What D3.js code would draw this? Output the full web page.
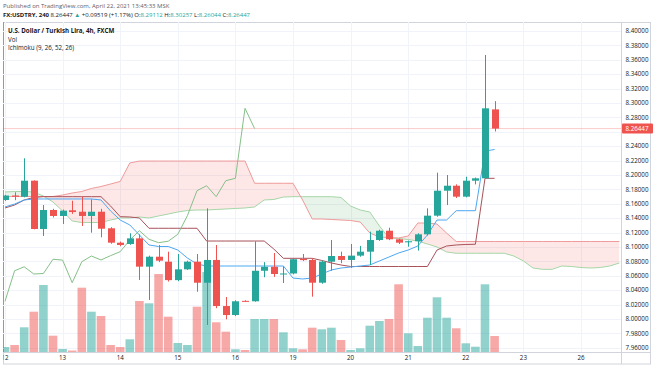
<!DOCTYPE html>
<html><head><meta charset="utf-8">
<script src="https://cdn.jsdelivr.net/npm/d3@7"></script>
<style>
body{margin:0;background:#fff;}
svg{display:block;font-family:"Open Sans",Roboto,sans-serif;}
</style></head><body>
<svg id="c" width="654" height="366"></svg>
<script>
// ---- data ----
const opens  = [8.1653,8.1715,8.1698,8.1921,8.1250,8.1514,8.1431,8.1510,8.1490,8.1431,8.1490,8.1260,8.1060,8.1042,8.1120,8.0727,8.0865,8.0796,8.0540,8.0690,8.0796,8.0504,8.0820,8.0180,8.0055,8.0252,8.0246,8.0670,8.0725,8.0625,8.0632,8.0835,8.0820,8.0504,8.0796,8.0875,8.0820,8.0880,8.0935,8.1097,8.1226,8.1107,8.1065,8.1080,8.1176,8.1435,8.1782,8.1851,8.1699,8.1921,8.1954,8.29112];
const highs  = [8.1725,8.1760,8.2232,8.1925,8.1583,8.1530,8.1520,8.1643,8.1699,8.1662,8.1530,8.1275,8.1075,8.1190,8.1176,8.0880,8.1028,8.0935,8.0903,8.0810,8.0903,8.1537,8.1028,8.0305,8.0260,8.0260,8.1080,8.0790,8.0917,8.0730,8.0840,8.0903,8.0840,8.0810,8.1097,8.0935,8.1042,8.1015,8.1213,8.1240,8.1268,8.1115,8.1090,8.1190,8.1537,8.2032,8.2000,8.1870,8.1976,8.1965,8.3667,8.30257];
const lows   = [8.1640,8.1650,8.1690,8.1245,8.1153,8.1410,8.1320,8.1460,8.1292,8.1199,8.1134,8.1045,8.1010,8.1030,8.0542,8.0264,8.0790,8.0520,8.0525,8.0680,8.0379,7.9917,8.0150,7.9996,8.0040,8.0240,8.0240,8.0580,8.0585,8.0500,8.0620,8.0805,8.0310,8.0490,8.0670,8.0775,8.0710,8.0865,8.0750,8.1085,8.1095,8.1042,8.1004,8.0950,8.1160,8.1420,8.1583,8.1680,8.1690,8.1870,8.1950,8.26044];
const closes = [8.1715,8.1698,8.1921,8.1250,8.1514,8.1431,8.1505,8.1486,8.1431,8.1490,8.1254,8.1060,8.1028,8.1120,8.0727,8.0865,8.0810,8.0540,8.0690,8.0796,8.0504,8.0820,8.0180,8.0055,8.0246,8.0246,8.0670,8.0725,8.0625,8.0632,8.0830,8.0818,8.0504,8.0796,8.0875,8.0820,8.0880,8.0935,8.1097,8.1226,8.1107,8.1060,8.1080,8.1176,8.1435,8.1782,8.1851,8.1699,8.1921,8.1954,8.2926,8.26447];
const volumes = [500,700,2470,4030,6700,1630,300,150,6430,4030,3600,700,500,1270,5100,4870,7800,3530,900,700,4530,8000,2970,2030,270,200,3300,3300,3300,1970,370,270,2430,2270,2430,1200,200,370,2630,3100,3300,6770,1870,600,3430,5470,3430,2370,870,530,6770,1600];
const conversionLine = [8.1556,8.1597,8.1653,8.1667,8.1667,8.1667,8.1667,8.1667,8.1667,8.1667,8.1653,8.1500,8.1375,8.1306,8.1167,8.1028,8.1007,8.1007,8.0958,8.0847,8.0764,8.0736,8.0736,8.0736,8.0736,8.0736,8.0736,8.0736,8.0736,8.0736,8.0569,8.0556,8.0569,8.0625,8.0681,8.0708,8.0722,8.0736,8.0750,8.0806,8.0861,8.0917,8.0958,8.1014,8.1167,8.1375,8.1375,8.1504,8.1504,8.1504,8.2333,8.2354];
const baseLine = [8.1542,8.1583,8.1653,8.1688,8.1699,8.1699,8.1699,8.1699,8.1699,8.1699,8.1699,8.1569,8.1421,8.1417,8.1403,8.1260,8.1260,8.1260,8.1260,8.1260,8.1260,8.1083,8.1083,8.1083,8.1083,8.1083,8.1083,8.1083,8.0972,8.0843,8.0843,8.0843,8.0843,8.0813,8.0778,8.0750,8.0729,8.0729,8.0729,8.0729,8.0729,8.0729,8.0729,8.0729,8.0729,8.0958,8.1014,8.1028,8.1035,8.1038,8.1954,8.1954];
const leadingSpanA = [8.1764,8.1771,8.1771,8.1764,8.1708,8.1625,8.1500,8.1361,8.1340,8.1340,8.1340,8.1375,8.1403,8.1403,8.1417,8.1403,8.1431,8.1458,8.1486,8.1507,8.1514,8.1514,8.1521,8.1528,8.1535,8.1542,8.1556,8.1653,8.1660,8.1694,8.1699,8.1699,8.1699,8.1699,8.1699,8.1688,8.1569,8.1514,8.1486,8.1292,8.1125,8.1118,8.1104,8.1083,8.1042,8.1000,8.0931,8.0913,8.0913,8.0913,8.0913,8.0913,8.0913,8.0875,8.0806,8.0708,8.0690,8.0690,8.0736,8.0729,8.0715,8.0708,8.0715,8.0736,8.0778];
const leadingSpanB = [8.1701,8.1701,8.1701,8.1701,8.1701,8.1701,8.1722,8.1750,8.1771,8.1813,8.1840,8.1875,8.1910,8.2167,8.2194,8.2194,8.2194,8.2194,8.2194,8.2194,8.2194,8.2194,8.2194,8.2194,8.2194,8.2194,8.1885,8.1885,8.1885,8.1885,8.1885,8.1653,8.1389,8.1389,8.1382,8.1375,8.1368,8.1347,8.1194,8.1139,8.1132,8.1125,8.1153,8.1333,8.1333,8.1319,8.1194,8.1076,8.1076,8.1076,8.1076,8.1076,8.1076,8.1076,8.1076,8.1076,8.1076,8.1076,8.1076,8.1076,8.1076,8.1076,8.1076,8.1076,8.1076];
const laggingShift = 25;
const dayLabels = ["12","13","14","15","16","19","20","21","22","23","26"];
const dayStartBars = [0,6,12,18,24,30,36,42,48,54,60];
const priceTicks = [7.96,7.98,8.00,8.02,8.04,8.06,8.08,8.10,8.12,8.14,8.16,8.18,8.20,8.22,8.24,8.26,8.28,8.30,8.32,8.34,8.36,8.38,8.40];
const lastPrice = 8.26447;

// ---- layout ----
const svg = d3.select("#c");
const P = {l:3, r:621, t:22, b:352};
const UP = "#26a69a", DN = "#ef5350";
const x = d3.scaleLinear().domain([0,64]).range([5, 5+9.6*64]);
const y = d3.scaleLinear().domain([7.96, 8.40]).range([347.8, 31]);
const vy = d3.scaleLinear().domain([0,10000]).range([P.b, P.b-100]);

const defs = svg.append("defs");
defs.append("clipPath").attr("id","plot").append("rect")
  .attr("x",P.l).attr("y",P.t).attr("width",P.r-P.l).attr("height",P.b-P.t);
defs.append("clipPath").attr("id","xax").append("rect")
  .attr("x",P.l+0.5).attr("y",P.b).attr("width",P.r-P.l).attr("height",14);

// header
svg.append("text").attr("x",3).attr("y",7.5).attr("font-size",6).attr("fill","#5d606b")
  .text("Published on TradingView.com, April 22, 2021 13:45:33 MSK");
const h2 = svg.append("text").attr("x",3).attr("y",17).attr("font-size",6).attr("fill","#131722");
h2.append("tspan").attr("font-weight","bold").text("FX:USDTRY, 240");
h2.append("tspan").text(" 8.26447 ");
h2.append("tspan").attr("fill",UP).text("▲");
h2.append("tspan").text(" +0.09519 (+1.17%) ");
[["O:","8.29112"],["H:","8.30257"],["L:","8.26044"],["C:","8.26447"]].forEach((p,k)=>{
  h2.append("tspan").text((k?" ":"")+p[0]);
  h2.append("tspan").attr("fill",UP).text(p[1]);
});

// frame
svg.append("rect").attr("x",P.l+0.5).attr("y",P.t+0.5).attr("width",650-P.l).attr("height",364-P.t-0.5)
  .attr("fill","none").attr("stroke","#d1d4dc");
svg.append("line").attr("x1",P.l+0.5).attr("x2",P.l+0.5).attr("y1",P.t).attr("y2",P.b)
  .attr("stroke","#9598a1");

const g = svg.append("g").attr("clip-path","url(#plot)");

// grid
g.selectAll("line.hg").data(priceTicks).join("line")
  .attr("x1",P.l).attr("x2",P.r).attr("y1",d=>Math.round(y(d))+0.5).attr("y2",d=>Math.round(y(d))+0.5)
  .attr("stroke","#f0f3fa");
g.selectAll("line.vg").data(dayStartBars).join("line")
  .attr("y1",P.t).attr("y2",P.b).attr("x1",d=>Math.round(x(d))+0.5).attr("x2",d=>Math.round(x(d))+0.5)
  .attr("stroke","#f0f3fa");

// volume
g.selectAll("rect.vol").data(volumes).join("rect")
  .attr("x",(d,i)=>x(i)-4.3).attr("width",8.6)
  .attr("y",d=>vy(d)).attr("height",d=>P.b-vy(d))
  .attr("fill",(d,i)=>closes[i]>=opens[i]?UP:DN).attr("fill-opacity",0.5);

// price line
g.append("line").attr("x1",P.l).attr("x2",P.r).attr("y1",y(lastPrice)).attr("y2",y(lastPrice))
  .attr("stroke",DN).attr("stroke-opacity",0.3).attr("stroke-width",1);

// cloud
const idxA = leadingSpanA.map((v,i)=>i);
defs.append("clipPath").attr("id","aboveB").append("path")
  .attr("d", d3.area().x(i=>x(i)).y0(P.t).y1(i=>y(leadingSpanB[i]))(idxA));
defs.append("clipPath").attr("id","belowB").append("path")
  .attr("d", d3.area().x(i=>x(i)).y0(P.b).y1(i=>y(leadingSpanB[i]))(idxA));
const cloud = d3.area().x(i=>x(i)).y0(i=>y(leadingSpanB[i])).y1(i=>y(leadingSpanA[i]));
g.append("g").attr("clip-path","url(#aboveB)").append("path").attr("d",cloud(idxA))
  .attr("fill","rgba(67,160,71,0.12)");
g.append("g").attr("clip-path","url(#belowB)").append("path").attr("d",cloud(idxA))
  .attr("fill","rgba(244,67,54,0.12)");

const ln = arr => d3.line().x((v,i)=>x(i)).y(v=>y(v))(arr);
g.append("path").attr("d",ln(leadingSpanA)).attr("fill","none").attr("stroke","#a5d6a7").attr("stroke-width",1);
g.append("path").attr("d",ln(leadingSpanB)).attr("fill","none").attr("stroke","#ef9a9a").attr("stroke-width",1);
g.append("path").attr("d",ln(baseLine)).attr("fill","none").attr("stroke","#a8525a").attr("stroke-width",1);
g.append("path").attr("d",ln(conversionLine)).attr("fill","none").attr("stroke","#4ea7f2").attr("stroke-width",1);
const lagging = closes.slice(laggingShift);
g.append("path").attr("d",ln(lagging)).attr("fill","none").attr("stroke","#86c089").attr("stroke-width",1);

// candles
const cg = g.append("g");
closes.forEach((c,i)=>{
  const col = c>=opens[i]?UP:DN;
  const cx = Math.round(x(i))+0.5;
  cg.append("line").attr("x1",cx).attr("x2",cx).attr("y1",y(highs[i])).attr("y2",y(lows[i])).attr("stroke",col);
  const top = y(Math.max(c,opens[i])), bot = y(Math.min(c,opens[i]));
  cg.append("rect").attr("x",cx-3.5).attr("width",7).attr("y",top).attr("height",Math.max(1,bot-top)).attr("fill",col);
});

// x axis
svg.append("line").attr("x1",P.l).attr("x2",650).attr("y1",P.b+0.5).attr("y2",P.b+0.5).attr("stroke","#d1d4dc");
svg.append("line").attr("x1",P.r+0.5).attr("x2",P.r+0.5).attr("y1",P.t).attr("y2",364).attr("stroke","#d1d4dc");
const xa = svg.append("g").attr("clip-path","url(#xax)");
xa.selectAll("text").data(dayStartBars).join("text")
  .attr("x",d=>x(d)).attr("y",360).attr("text-anchor","middle").attr("font-size",6.2).attr("fill","#131722")
  .text((d,i)=>dayLabels[i]);

// y axis (the tick label hidden behind the last-price label is not drawn)
const labelTicks = priceTicks.filter(d=>Math.abs(y(d)-y(lastPrice))>7);
svg.selectAll("text.yl").data(labelTicks).join("text").attr("class","yl")
  .attr("x",637).attr("y",d=>y(d)+2.2).attr("text-anchor","middle").attr("font-size",6.2).attr("fill","#131722")
  .text(d=>d3.format(".5f")(d));
svg.append("rect").attr("x",P.r+1).attr("y",y(lastPrice)-5).attr("width",31).attr("height",10).attr("rx",1).attr("fill",DN);
svg.append("text").attr("x",637).attr("y",y(lastPrice)+2.2).attr("text-anchor","middle").attr("font-size",6.2)
  .attr("fill","#fff").text(d3.format(".5f")(lastPrice));

// legend in pane
const lg = svg.append("g").attr("font-size",6.2).attr("fill","#131722");
lg.append("text").attr("x",8).attr("y",33).attr("font-weight","bold").text("U.S. Dollar / Turkish Lira, 4h, FXCM");
lg.append("text").attr("x",8).attr("y",41.5).text("Vol");
lg.append("text").attr("x",8).attr("y",50).text("Ichimoku (9, 26, 52, 26)");
</script></body></html>
